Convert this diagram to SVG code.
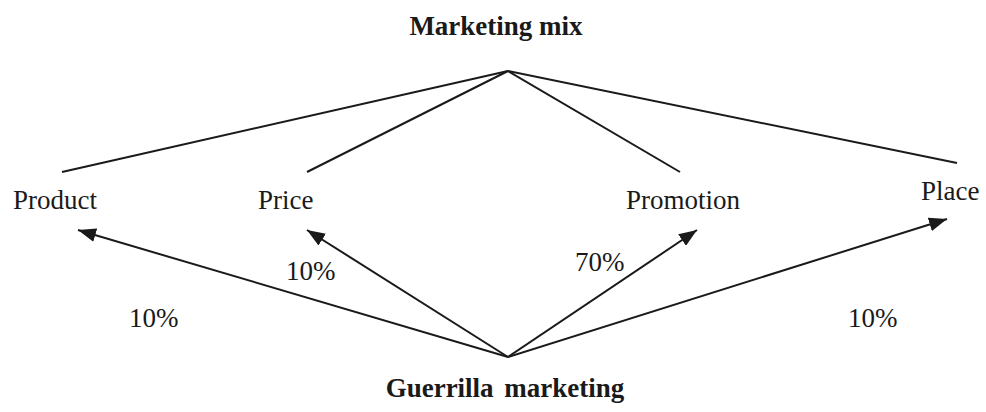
<svg xmlns="http://www.w3.org/2000/svg" width="986" height="412" viewBox="0 0 986 412">
<defs>
<style>
text{font-family:"Liberation Serif","Times New Roman",serif;font-size:27px;fill:#1a1a1a}
.b{font-weight:bold}
.ln{stroke:#1a1a1a;stroke-width:2;fill:none}
</style>
<marker id="ah" markerUnits="userSpaceOnUse" markerWidth="20" markerHeight="14" refX="18" refY="7" orient="auto">
<path d="M0,0 L18,7 L0,14 z" fill="#1a1a1a"/>
</marker>
</defs>
<rect width="986" height="412" fill="#fff"/>
<g id="connectors">
<line class="ln" x1="508" y1="71" x2="62" y2="172"/>
<line class="ln" x1="508" y1="71" x2="307" y2="172"/>
<line class="ln" x1="508" y1="71" x2="680" y2="172"/>
<line class="ln" x1="508" y1="71" x2="957" y2="163"/>
<line class="ln" x1="508" y1="357" x2="78" y2="230" marker-end="url(#ah)"/>
<line class="ln" x1="508" y1="357" x2="307" y2="230" marker-end="url(#ah)"/>
<line class="ln" x1="508" y1="357" x2="697" y2="230" marker-end="url(#ah)"/>
<line class="ln" x1="508" y1="357" x2="947" y2="219" marker-end="url(#ah)"/>
</g>
<g id="marketing-mix"><text class="b" x="496" y="35" text-anchor="middle">Marketing mix</text></g>
<g id="guerrilla"><text class="b" x="505" y="397" text-anchor="middle" word-spacing="4">Guerrilla marketing</text></g>
<g id="product"><text x="13" y="209">Product</text></g>
<g id="price"><text x="258" y="209">Price</text></g>
<g id="promotion"><text x="626" y="209">Promotion</text></g>
<g id="place"><text x="921" y="200">Place</text></g>
<g id="labels">
<text x="129" y="327">10%</text>
<text x="286" y="280">10%</text>
<text x="575" y="271">70%</text>
<text x="848" y="327">10%</text>
</g>
</svg>
